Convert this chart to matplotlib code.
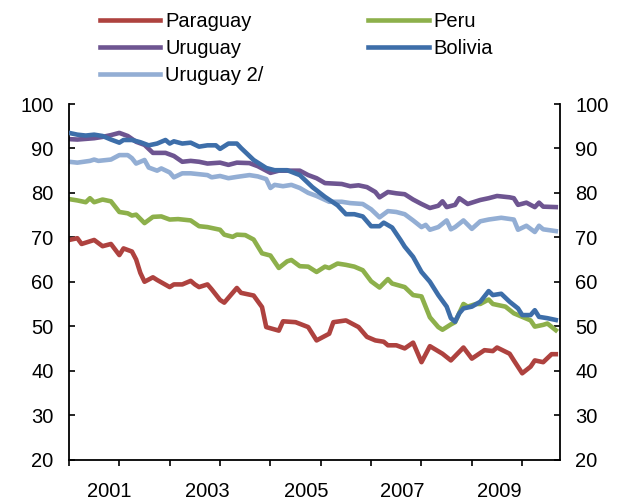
import numpy as np
import matplotlib
matplotlib.use("Agg")
import matplotlib.pyplot as plt

plt.rcParams['font.family'] = ['Liberation Sans', 'DejaVu Sans']

# months since Jan 2000
paraguay_m = [0, 2, 3, 6, 8, 10, 12, 13, 15, 16, 17, 18, 20, 21, 24, 25, 27, 29, 30, 31,
              33, 34, 36, 37, 40, 41, 44, 46, 47, 50, 51, 54, 57, 59, 62, 63, 66, 69, 71,
              73, 75, 76, 78, 80, 82, 84, 86, 89, 91, 94, 96, 99, 101, 102, 105, 106, 108,
              110, 111, 113, 115, 116]
paraguay_v = [69.4, 69.8, 68.5, 69.4, 68.0, 68.5, 66.0, 67.5, 66.8, 65.0, 62.0, 60.0, 61.0,
              60.4, 58.8, 59.4, 59.4, 60.2, 59.4, 58.8, 59.4, 58.3, 55.9, 55.3, 58.6, 57.5,
              56.9, 54.3, 49.8, 49.0, 51.1, 50.9, 49.8, 46.8, 48.3, 50.9, 51.3, 49.8, 47.6,
              46.8, 46.5, 45.7, 45.7, 45.0, 46.3, 41.9, 45.5, 43.8, 42.3, 45.2, 42.7, 44.6,
              44.4, 45.2, 43.8, 42.3, 39.4, 40.9, 42.3, 41.9, 43.7, 43.7]

peru_m = [0, 2, 4, 5, 6, 8, 10, 12, 14, 15, 16, 18, 20, 22, 24, 26, 29, 31, 33, 36, 37, 39,
          40, 42, 44, 46, 48, 50, 52, 53, 55, 57, 59, 61, 62, 64, 66, 68, 70, 72, 74, 76, 77,
          80, 82, 84, 86, 88, 89, 91, 92, 94, 95, 97, 98, 100, 101, 104, 106, 108, 110, 111,
          113, 114, 116]
peru_v = [78.6, 78.3, 77.9, 78.8, 77.9, 78.5, 78.1, 75.7, 75.4, 74.9, 75.1, 73.2, 74.6, 74.7,
          74.0, 74.1, 73.8, 72.5, 72.3, 71.7, 70.6, 70.1, 70.6, 70.5, 69.5, 66.4, 65.9, 63.1,
          64.6, 64.9, 63.5, 63.4, 62.2, 63.4, 63.1, 64.1, 63.8, 63.4, 62.6, 60.1, 58.7, 60.6,
          59.6, 58.8, 57.0, 56.7, 52.0, 49.8, 49.2, 50.4, 50.9, 55.0, 54.4, 55.0, 55.0, 56.0,
          55.0, 54.4, 52.9, 52.1, 51.3, 49.9, 50.3, 50.6, 49.1]

uruguay_m = [0, 2, 6, 8, 10, 12, 14, 16, 18, 20, 23, 25, 27, 29, 31, 33, 36, 38, 40, 43, 45,
             48, 50, 52, 55, 57, 59, 61, 65, 67, 69, 71, 73, 74, 76, 78, 80, 82, 84, 86, 88,
             89, 90, 92, 93, 95, 98, 100, 102, 105, 106, 107, 109, 111, 112, 113, 116]
uruguay_v = [92.1, 92.0, 92.3, 92.6, 93.0, 93.5, 92.8, 91.5, 90.8, 89.0, 89.0, 88.3, 87.0,
             87.2, 87.0, 86.6, 86.8, 86.3, 86.8, 86.7, 86.0, 84.5, 85.0, 85.0, 85.0, 84.0,
             83.3, 82.2, 82.0, 81.5, 81.7, 81.3, 80.2, 79.0, 80.2, 79.9, 79.7, 78.5, 77.5,
             76.6, 77.1, 78.1, 76.8, 77.3, 78.8, 77.5, 78.4, 78.8, 79.3, 79.0, 78.8, 77.3,
             77.8, 76.8, 77.8, 76.9, 76.8]

bolivia_m = [0, 2, 4, 6, 8, 10, 12, 13, 15, 17, 19, 21, 23, 24, 25, 27, 29, 31, 33, 35, 36,
             38, 40, 41, 44, 47, 49, 52, 55, 58, 61, 64, 66, 68, 70, 72, 74, 75, 77, 79, 80,
             82, 84, 86, 88, 90, 91, 92, 93, 94, 96, 98, 100, 101, 103, 105, 107, 108, 110,
             111, 112, 114, 116]
bolivia_v = [93.5, 93.1, 92.9, 93.1, 92.8, 92.0, 91.3, 91.9, 91.9, 91.4, 90.7, 91.1, 91.9,
             91.1, 91.6, 91.1, 91.3, 90.4, 90.7, 90.7, 89.9, 91.1, 91.1, 90.1, 87.4, 85.6,
             85.1, 85.1, 84.0, 81.3, 79.1, 77.2, 75.2, 75.2, 74.7, 72.5, 72.5, 73.3, 72.2,
             69.4, 67.9, 65.6, 62.2, 60.0, 57.0, 54.4, 51.8, 51.0, 52.9, 54.0, 54.4, 55.5,
             57.9, 57.0, 57.3, 55.5, 54.0, 52.5, 52.5, 53.6, 52.1, 51.8, 51.4]

uruguay2_m = [0, 2, 5, 6, 7, 10, 12, 14, 15, 16, 18, 19, 21, 22, 24, 25, 27, 29, 31, 33, 34,
              36, 38, 40, 43, 45, 47, 48, 49, 51, 53, 55, 57, 59, 62, 65, 67, 70, 72, 74, 76,
              78, 80, 82, 84, 85, 86, 88, 90, 91, 92, 94, 96, 98, 100, 103, 106, 107, 109,
              111, 112, 113, 116]
uruguay2_v = [87.0, 86.8, 87.2, 87.5, 87.2, 87.5, 88.5, 88.5, 87.8, 86.6, 87.4, 85.7, 85.0,
              85.5, 84.6, 83.5, 84.4, 84.4, 84.2, 84.0, 83.5, 83.8, 83.3, 83.6, 84.0, 83.7,
              83.1, 81.1, 81.8, 81.5, 81.8, 81.1, 80.0, 79.3, 78.0, 78.0, 77.7, 77.5, 76.3,
              74.5, 75.9, 75.7, 75.2, 73.8, 72.3, 72.8, 71.7, 72.3, 73.8, 71.8, 72.3, 73.8,
              71.9, 73.6, 74.0, 74.4, 74.0, 71.7, 72.6, 71.2, 72.6, 71.8, 71.4]

year_labels = ["2001", "2003", "2005", "2007", "2009"]
y_ticks = [20, 30, 40, 50, 60, 70, 80, 90, 100]

fig = plt.figure(figsize=(6.17, 5.0), dpi=100)
ax = fig.add_axes([0.1118, 0.081, 0.7958, 0.711])

lw = 3.3
l_par, = ax.plot(paraguay_m, paraguay_v, color="#AE423F", lw=lw, label="Paraguay")
l_peru, = ax.plot(peru_m, peru_v, color="#8DB04B", lw=lw, label="Peru")
l_uru, = ax.plot(uruguay_m, uruguay_v, color="#6E5591", lw=lw, label="Uruguay")
l_uru2, = ax.plot(uruguay2_m, uruguay2_v, color="#93AED4", lw=lw, label="Uruguay 2/")
l_bol, = ax.plot(bolivia_m, bolivia_v, color="#3D6EA9", lw=lw, label="Bolivia")
# bolivia on top of uruguay 2/ like the original
l_bol.set_zorder(3)

ax.set_xlim(0, 117)
ax.set_ylim(20, 100)

ax.spines["top"].set_visible(False)
for s in ["left", "right", "bottom"]:
    ax.spines[s].set_linewidth(1.3)

ax.set_yticks(y_ticks)
ax.tick_params(axis="y", direction="in", left=True, right=True, labelleft=True,
               labelright=True, length=4, width=1.2, labelsize=14.5, pad=11)

# year ticks every 12 months, labels placed like the original
ax.set_xticks(np.arange(0, 117, 12))
ax.set_xticklabels([])
ax.tick_params(axis="x", which="major", direction="out", length=4, width=1.2)
ax.set_xticks([9.5, 33, 56.5, 79.5, 102.5], minor=True)
ax.set_xticklabels(year_labels, minor=True)
ax.tick_params(axis="x", which="minor", length=0, labelsize=14.5, pad=16)

handles = [l_par, l_uru, l_uru2, l_peru, l_bol]
fig.legend(handles=handles, labels=[h.get_label() for h in handles], ncol=2,
           loc="upper left", bbox_to_anchor=(0.139, 1.005), frameon=False,
           fontsize=14.5, handlelength=3.0, handletextpad=0.25, columnspacing=5.2,
           labelspacing=0.4, borderpad=0.2)

fig.savefig("out.png", dpi=100)
